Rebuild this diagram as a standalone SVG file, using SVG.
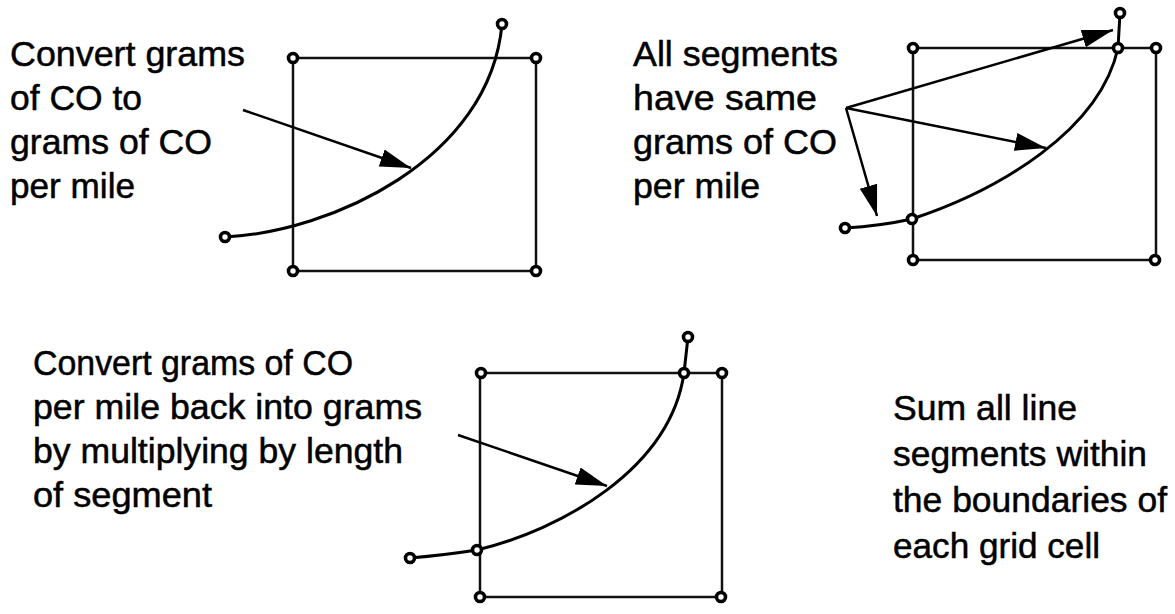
<svg xmlns="http://www.w3.org/2000/svg" width="1175" height="614" viewBox="0 0 1175 614">
<style>
.t{font-family:"Liberation Sans",Arial,sans-serif;font-size:35px;fill:#000;stroke:#000;stroke-width:0.5}
.box{fill:none;stroke:#111;stroke-width:2.5}
.crv{fill:none;stroke:#000;stroke-width:3}
.arr{fill:none;stroke:#000;stroke-width:2.5;marker-end:url(#ah)}
.v{fill:#fff;stroke:#000;stroke-width:3.6}
</style>
<defs>
<marker id="ah" markerUnits="userSpaceOnUse" markerWidth="32" markerHeight="20" refX="31" refY="10" orient="auto" viewBox="0 0 32 20">
<path d="M0,1 L31,10 L0,19 Z" fill="#000"/>
</marker>
</defs>
<rect width="1175" height="614" fill="#fff"/>

<g id="panel1">
<text class="t"><tspan x="10" y="66" textLength="235" lengthAdjust="spacingAndGlyphs">Convert grams</tspan><tspan x="10" y="110" textLength="132" lengthAdjust="spacingAndGlyphs">of CO to</tspan><tspan x="10" y="154" textLength="202" lengthAdjust="spacingAndGlyphs">grams of CO</tspan><tspan x="10" y="198" textLength="125" lengthAdjust="spacingAndGlyphs">per mile</tspan></text>
<rect class="box" x="293" y="58" width="243" height="213"/>
<path class="crv" d="M225,237 C330,232 490,160 502,24"/>
<circle class="v" cx="225" cy="237" r="4.5"/><circle class="v" cx="502" cy="24" r="4.5"/>
<circle class="v" cx="293" cy="58" r="4.5"/><circle class="v" cx="536" cy="58" r="4.5"/>
<circle class="v" cx="293" cy="271" r="4.5"/><circle class="v" cx="536" cy="271" r="4.5"/>
</g>

<g id="panel2">
<text class="t"><tspan x="633" y="66" textLength="205" lengthAdjust="spacingAndGlyphs">All segments</tspan><tspan x="633" y="110" textLength="184" lengthAdjust="spacingAndGlyphs">have same</tspan><tspan x="633" y="154" textLength="204" lengthAdjust="spacingAndGlyphs">grams of CO</tspan><tspan x="633" y="198" textLength="127" lengthAdjust="spacingAndGlyphs">per mile</tspan></text>
<rect class="box" x="913" y="48" width="243" height="212"/>
<path class="crv" d="M845,228 Q880,226 912,219 C1000,190 1100,130 1118,48 L1120,13"/>
<circle class="v" cx="845" cy="228" r="4.5"/><circle class="v" cx="912" cy="219" r="4.5"/>
<circle class="v" cx="1118" cy="48" r="4.5"/><circle class="v" cx="1120" cy="13" r="4.5"/>
<circle class="v" cx="913" cy="48" r="4.5"/><circle class="v" cx="1156" cy="48" r="4.5"/>
<circle class="v" cx="913" cy="260" r="4.5"/><circle class="v" cx="1155" cy="260" r="4.5"/>
</g>

<g id="panel3">
<text class="t"><tspan x="33" y="375" textLength="320" lengthAdjust="spacingAndGlyphs">Convert grams of CO</tspan><tspan x="33" y="419" textLength="389" lengthAdjust="spacingAndGlyphs">per mile back into grams</tspan><tspan x="33" y="463" textLength="370" lengthAdjust="spacingAndGlyphs">by multiplying by length</tspan><tspan x="33" y="507" textLength="179" lengthAdjust="spacingAndGlyphs">of segment</tspan></text>
<rect class="box" x="480" y="373" width="242" height="224"/>
<path class="crv" d="M410,558 Q445,555 477,550 C560,530 670,470 684,373 L688,337"/>
<circle class="v" cx="410" cy="558" r="4.5"/><circle class="v" cx="477" cy="550" r="4.5"/>
<circle class="v" cx="684" cy="373" r="4.5"/><circle class="v" cx="688" cy="337" r="4.5"/>
<circle class="v" cx="481" cy="373" r="4.5"/><circle class="v" cx="722" cy="373" r="4.5"/>
<circle class="v" cx="480" cy="597" r="4.5"/><circle class="v" cx="721" cy="597" r="4.5"/>
</g>

<g id="panel4">
<text class="t"><tspan x="893" y="420" textLength="184" lengthAdjust="spacingAndGlyphs">Sum all line</tspan><tspan x="893" y="466" textLength="254" lengthAdjust="spacingAndGlyphs">segments within</tspan><tspan x="893" y="512" textLength="274" lengthAdjust="spacingAndGlyphs">the boundaries of</tspan><tspan x="893" y="558" textLength="207" lengthAdjust="spacingAndGlyphs">each grid cell</tspan></text>
</g>

<g id="connectors">
<line class="arr" x1="243" y1="110" x2="411" y2="168"/>
<line class="arr" x1="846" y1="108" x2="1113" y2="30"/>
<line class="arr" x1="846" y1="108" x2="1046" y2="148"/>
<line class="arr" x1="846" y1="108" x2="877" y2="216"/>
<line class="arr" x1="458" y1="435" x2="607" y2="486"/>
</g>
</svg>
